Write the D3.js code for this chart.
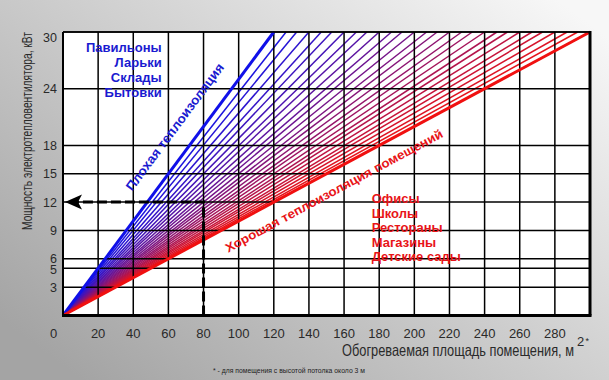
<!DOCTYPE html>
<html>
<head>
<meta charset="utf-8">
<script src="https://cdn.jsdelivr.net/npm/d3@7"></script>
<style>
  body { margin: 0; }
  svg { display: block; }
</style>
</head>
<body>
<div id="chart"></div>
<script>
// Heater power vs heated area chart

const xTicks = [20, 40, 60, 80, 100, 120, 140, 160, 180, 200, 220, 240, 260, 280];
const yTicks = [3, 5, 6, 9, 12, 15, 18, 24, 30];
// area (m²) where each thin line reaches 30 kW
const fanEnds = [120, 127, 133, 140, 147, 153, 160, 167, 173, 180, 187, 193, 200, 207,
                 213, 220, 227, 233, 240, 247, 253, 260, 267, 273, 280, 287, 293, 300];
const poorLine = [[0, 0], [120, 30]];
const goodLine = [[0, 0], [300, 30]];
const poorLabels = ["Павильоны", "Ларьки", "Склады", "Бытовки"];
const goodLabels = ["Офисы", "Школы", "Рестораны", "Магазины", "Детские сады"];
const example = [[80, 0], [80, 12], [0, 12]];

const width = 609, height = 380;

const svg = d3.select("#chart").append("svg")
    .attr("width", width)
    .attr("height", height);

const defs = svg.append("defs");
const bg = defs.append("linearGradient")
    .attr("id", "bg")
    .attr("x1", 0.05).attr("y1", 0.9)
    .attr("x2", 1).attr("y2", 0.1);
bg.append("stop").attr("offset", 0).attr("stop-color", "#a4a4a4");
bg.append("stop").attr("offset", 1).attr("stop-color", "#f7f7f7");

svg.append("rect")
    .attr("width", width).attr("height", height)
    .attr("fill", "url(#bg)");

const x = d3.scaleLinear().domain([0, 300]).range([63, 590]);
const y = d3.scaleLinear().domain([0, 30]).range([315.5, 32]);

// plot background
svg.append("rect")
    .attr("x", x(0)).attr("y", y(30))
    .attr("width", x(300) - x(0)).attr("height", y(0) - y(30))
    .attr("fill", "#fff");

// fan of thin lines
const color = d3.interpolateRgb("#1414e6", "#ee1414");
const line = d3.line().x(d => x(d[0])).y(d => y(d[1]));
svg.append("g").selectAll("path")
    .data(fanEnds)
    .enter().append("path")
    .attr("d", d => line([[0, 0], [d, 30]]))
    .attr("stroke", (d, i) => color(i / (fanEnds.length - 1)))
    .attr("stroke-width", 1.5)
    .attr("fill", "none");

// grid
const grid = svg.append("g").attr("stroke", "#000").attr("stroke-width", 1.5);
grid.selectAll(".vx")
    .data(xTicks)
    .enter().append("line")
    .attr("x1", d => x(d)).attr("x2", d => x(d))
    .attr("y1", y(0)).attr("y2", y(30));
grid.selectAll(".hy")
    .data(yTicks)
    .enter().append("line")
    .attr("x1", x(0)).attr("x2", x(300))
    .attr("y1", d => y(d)).attr("y2", d => y(d));

// thick boundary lines
svg.append("path")
    .attr("d", line(poorLine))
    .attr("stroke", "#1010e8").attr("stroke-width", 3).attr("fill", "none");
svg.append("path")
    .attr("d", line(goodLine))
    .attr("stroke", "#f01010").attr("stroke-width", 3).attr("fill", "none");

// frame
svg.append("line").attr("x1", x(0)).attr("x2", x(300)).attr("y1", y(30)).attr("y2", y(30))
    .attr("stroke", "#000").attr("stroke-width", 1.5);
svg.append("line").attr("x1", x(0)).attr("x2", x(0)).attr("y1", y(30)).attr("y2", y(0))
    .attr("stroke", "#000").attr("stroke-width", 2);
svg.append("line").attr("x1", x(300)).attr("x2", x(300)).attr("y1", y(30) - 1).attr("y2", y(0))
    .attr("stroke", "#000").attr("stroke-width", 3);
svg.append("line").attr("x1", x(0) - 1).attr("x2", x(300) + 1.5).attr("y1", y(0)).attr("y2", y(0))
    .attr("stroke", "#000").attr("stroke-width", 3);

// example: 80 m² -> 12 kW
svg.append("path")
    .attr("d", d3.line()([[x(example[0][0]), y(example[0][1])],
                          [x(example[1][0]), y(example[1][1])],
                          [x(example[2][0]) + 14, y(example[2][1])]]))
    .attr("stroke", "#000").attr("stroke-width", 3)
    .attr("stroke-dasharray", "10,4").attr("fill", "none");
const ax = x(example[2][0]) + 2, ay = y(example[2][1]);
svg.append("path")
    .attr("d", `M${ax},${ay} L${ax + 17},${ay - 7.5} L${ax + 13},${ay} L${ax + 17},${ay + 7.5} Z`)
    .attr("fill", "#000");

// tick labels
const tickFont = "'Liberation Sans', Arial, sans-serif";
svg.append("g").selectAll("text")
    .data(xTicks)
    .enter().append("text")
    .attr("x", d => x(d))
    .attr("y", 338)
    .attr("text-anchor", "middle")
    .attr("font-family", tickFont).attr("font-size", 13)
    .attr("fill", "#2a2a2a")
    .text(d => d);
svg.append("text")
    .attr("x", 53.5).attr("y", 338)
    .attr("text-anchor", "middle")
    .attr("font-family", tickFont).attr("font-size", 13)
    .attr("fill", "#2a2a2a")
    .text("0");
svg.append("g").selectAll("text")
    .data(yTicks)
    .enter().append("text")
    .attr("x", 57)
    .attr("y", d => d === 30 ? y(d) + 10 : d === 6 ? y(d) + 4 : d === 5 ? y(d) + 5.5 : y(d) + 4.7)
    .attr("text-anchor", "end")
    .attr("font-family", tickFont).attr("font-size", 12.5)
    .attr("fill", "#2a2a2a")
    .text(d => d);

// axis titles
svg.append("text")
    .attr("transform", "translate(31.5,230) rotate(-90) scale(1,1.25)")
    .attr("font-family", tickFont).attr("font-size", 11)
    .attr("textLength", 198).attr("lengthAdjust", "spacingAndGlyphs")
    .attr("fill", "#2a2a2a")
    .text("Мощность электротепловентилятора, кВт");

svg.append("text")
    .attr("transform", "translate(342,356) scale(1,1.25)")
    .attr("font-family", tickFont).attr("font-size", 13.5)
    .attr("textLength", 232).attr("lengthAdjust", "spacingAndGlyphs")
    .attr("fill", "#2a2a2a")
    .text("Обогреваемая площадь помещения, м");
svg.append("text")
    .attr("x", 577).attr("y", 346)
    .attr("font-family", tickFont).attr("font-size", 13)
    .attr("fill", "#2a2a2a")
    .text("2");
svg.append("text")
    .attr("x", 585.5).attr("y", 344)
    .attr("font-family", tickFont).attr("font-size", 9)
    .attr("fill", "#2a2a2a")
    .text("*");

svg.append("text")
    .attr("x", 213).attr("y", 372.5)
    .attr("font-family", tickFont).attr("font-size", 8)
    .attr("textLength", 152).attr("lengthAdjust", "spacingAndGlyphs")
    .attr("fill", "#222")
    .text("* -  для помещения с высотой потолка около 3 м");

// annotations
const boldFont = "'Liberation Sans', Arial, sans-serif";
svg.append("g").selectAll("text")
    .data(poorLabels)
    .enter().append("text")
    .attr("x", 161.7)
    .attr("y", (d, i) => 51.7 + i * 15)
    .attr("text-anchor", "end")
    .attr("font-family", boldFont).attr("font-weight", "bold").attr("font-size", 13)
    .attr("fill", "#1a1ad0")
    .text(d => d);

svg.append("g").selectAll("text")
    .data(goodLabels)
    .enter().append("text")
    .attr("x", 371.7)
    .attr("y", (d, i) => 203.3 + i * 14.5)
    .attr("font-family", boldFont).attr("font-weight", "bold").attr("font-size", 13)
    .attr("fill", "#e81418")
    .text(d => d);

const poorAngle = Math.atan2(y(0) - y(30), x(120) - x(0)) * 180 / Math.PI;
svg.append("text")
    .attr("transform", `translate(${x(39.4)},${y(13.1)}) rotate(${-poorAngle})`)
    .attr("font-family", boldFont).attr("font-weight", "bold").attr("font-size", 13)
    .attr("textLength", 155).attr("lengthAdjust", "spacingAndGlyphs")
    .attr("fill", "#1a1ad0")
    .text("Плохая теплоизоляция");

const goodAngle = Math.atan2(y(0) - y(30), x(300) - x(0)) * 180 / Math.PI;
svg.append("text")
    .attr("transform", `translate(${x(94)},${y(6.65)}) rotate(${-goodAngle})`)
    .attr("font-family", boldFont).attr("font-weight", "bold").attr("font-size", 12.5)
    .attr("textLength", 245).attr("lengthAdjust", "spacingAndGlyphs")
    .attr("fill", "#e81418")
    .text("Хорошая теплоизоляция помещений");
</script>
</body>
</html>
